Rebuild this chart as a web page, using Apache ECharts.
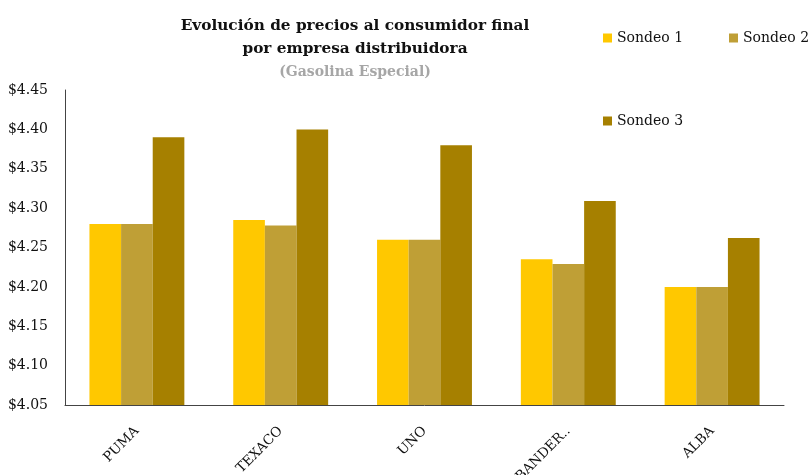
<!DOCTYPE html>
<html><head><meta charset="utf-8">
<script src="https://cdn.jsdelivr.net/npm/echarts@6/dist/echarts.min.js"></script>
<style>html,body{margin:0;padding:0;background:#fff}#c{width:811px;height:475px}</style>
</head><body><div id="c"></div>
<script>
const categories = ['PUMA', 'TEXACO', 'UNO', 'BANDER..', 'ALBA'];
const sondeo1 = [4.28, 4.285, 4.26, 4.235, 4.20];
const sondeo2 = [4.28, 4.278, 4.26, 4.229, 4.20];
const sondeo3 = [4.39, 4.40, 4.38, 4.309, 4.262];
const seriesNames = ['Sondeo 1', 'Sondeo 2', 'Sondeo 3'];
const colors = ['#FFC800', '#BF9F36', '#A68000'];
const font = '"DejaVu Serif", "Liberation Serif", serif';

const legendText = { fontFamily: font, fontSize: 14, color: '#111' };
const mkLegend = (name, left, top) => ({
  data: [name], left: left, top: top, itemWidth: 9, itemHeight: 9, itemGap: 4,
  icon: 'rect', textStyle: legendText, padding: 0
});

const chart = echarts.init(document.getElementById('c'));
chart.setOption({
  animation: false,
  color: colors,
  title: [{
    text: 'Evolución de precios al consumidor final\npor empresa distribuidora',
    left: 350, textAlign: 'center', top: 10,
    textStyle: { fontFamily: font, fontSize: 15.3, fontWeight: 'bold', color: '#111', lineHeight: 23 }
  }, {
    text: '(Gasolina Especial)',
    left: 350, textAlign: 'center', top: 60,
    textStyle: { fontFamily: font, fontSize: 14, fontWeight: 'bold', color: '#a6a6a6' }
  }],
  legend: [
    mkLegend('Sondeo 1', 603, 31),
    mkLegend('Sondeo 2', 729, 31),
    mkLegend('Sondeo 3', 603, 114)
  ],
  grid: { left: 65, right: 27, top: 90, bottom: 70, containLabel: false, outerBoundsMode: 'none' },
  xAxis: {
    type: 'category', data: categories,
    axisLine: { lineStyle: { color: '#444', width: 1 } },
    axisTick: { show: false },
    axisLabel: { rotate: 45, margin: 24, fontFamily: font, fontSize: 13.5, color: '#111' }
  },
  yAxis: {
    type: 'value', min: 4.05, max: 4.45, interval: 0.05,
    splitLine: { show: false },
    axisLine: { show: true, lineStyle: { color: '#444', width: 1 } },
    axisTick: { show: false },
    axisLabel: { margin: 17, fontFamily: font, fontSize: 14, color: '#111',
      formatter: v => '$' + v.toFixed(2) }
  },
  series: [sondeo1, sondeo2, sondeo3].map((d, i) => ({
    name: seriesNames[i], type: 'bar', data: d,
    barGap: '0%', barCategoryGap: '34%'
  }))
});
</script></body></html>
